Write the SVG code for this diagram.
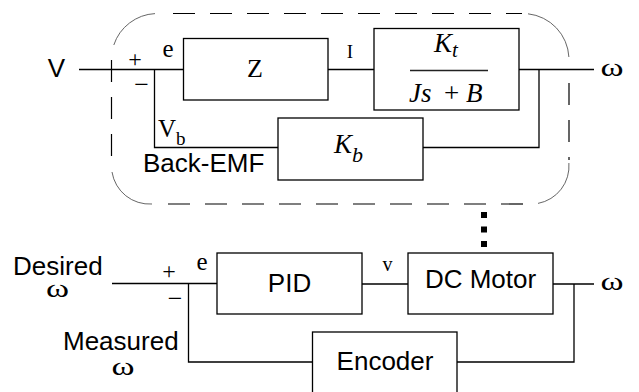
<svg xmlns="http://www.w3.org/2000/svg" width="639" height="392" viewBox="0 0 639 392">
<style>
.ln{fill:none;stroke:#000;stroke-width:1.3}
.box{fill:#fff;stroke:#000;stroke-width:1.3}
.dash{fill:none;stroke:#000;stroke-width:1.2;stroke-dasharray:22 15}
.arc{fill:none;stroke:#555;stroke-width:0.9}
.sans{font-family:"Liberation Sans",Arial,sans-serif;font-size:26px;fill:#000}
.serif{font-family:"Liberation Serif","Times New Roman",serif;fill:#000}
.it{font-style:italic}
.om{font-family:"Liberation Serif","Times New Roman",serif;font-size:25px;fill:#000;text-anchor:middle}
</style>
<rect width="639" height="392" fill="#fff"/>
<g id="boundary">
<path class="dash" d="M173,13.5 H522"/>
<path class="dash" d="M168,204 H532"/>
<path class="dash" d="M111.5,60 V160"/>
<path class="dash" d="M569,83 V160"/>
<path class="arc" d="M113.8,45 A46,46 0 0 1 155,13.6"/>
<path class="arc" d="M528,13.8 A46,46 0 0 1 568.9,57"/>
<path class="arc" d="M112,172 A38,38 0 0 0 152,204"/>
<path class="arc" d="M568.9,163 A38,38 0 0 1 538,203.4"/>
</g>
<g id="connectors">
<path class="ln" d="M79,69.5 H183.5"/>
<path class="ln" d="M154.5,69.5 V147.5 H278"/>
<path class="ln" d="M328,69.5 H374"/>
<path class="ln" d="M519,69.5 H594"/>
<path class="ln" d="M423,147.5 H539 V69.5"/>
<path d="M484,212 V248" fill="none" stroke="#000" stroke-width="6" stroke-dasharray="6 8.5"/>
<path class="ln" d="M112,283.5 H217"/>
<path class="ln" d="M188.5,283.5 V362 H312.5"/>
<path class="ln" d="M362,284 H408"/>
<path class="ln" d="M553,284 H594"/>
<path class="ln" d="M574,284 V362 H457"/>
</g>
<g id="labels">
<text class="sans" x="56.5" y="76.5" text-anchor="middle">V</text>
<text class="serif" x="135" y="67" font-size="24" text-anchor="middle">+</text>
<text class="serif" x="141.5" y="93" font-size="26" text-anchor="middle">−</text>
<text class="serif" x="168" y="57" font-size="25" text-anchor="middle">e</text>
<text class="serif" x="350" y="58" font-size="19" text-anchor="middle">I</text>
<text class="om" transform="translate(612,75.5) scale(1.4,1)">ω</text>
<text class="serif" x="158" y="137" font-size="25">V<tspan font-size="19" y="145">b</tspan></text>
<text class="sans" x="143" y="172">Back-EMF</text>
<text class="sans" x="13" y="275">Desired</text>
<text class="om" transform="translate(57.5,297) scale(1.4,1)">ω</text>
<text class="serif" x="169" y="279" font-size="24" text-anchor="middle">+</text>
<text class="serif" x="175" y="307" font-size="26" text-anchor="middle">−</text>
<text class="serif" x="202" y="270" font-size="25" text-anchor="middle">e</text>
<text class="serif" x="387.5" y="270.7" font-size="20" text-anchor="middle">v</text>
<text class="om" transform="translate(612,290) scale(1.4,1)">ω</text>
<text class="sans" x="63" y="350">Measured</text>
<text class="om" transform="translate(123,375) scale(1.4,1)">ω</text>
</g>
<g id="Z">
<rect class="box" x="183.5" y="38.5" width="144.5" height="61.5"/>
<text class="serif" x="255" y="77" font-size="26" text-anchor="middle">Z</text>
</g>
<g id="plant">
<rect class="box" x="374" y="28.5" width="145" height="81.5"/>
<text class="serif it" x="434" y="51.7" font-size="27">K<tspan font-size="21" y="56.7">t</tspan></text>
<path d="M410,70.5 H488" fill="none" stroke="#222" stroke-width="1.5"/>
<text class="serif" y="101.7" font-size="27"><tspan class="it" x="409">Js</tspan><tspan x="444">+</tspan><tspan class="it" x="466">B</tspan></text>
</g>
<g id="Kb">
<rect class="box" x="278" y="118" width="145" height="62"/>
<text class="serif it" x="334" y="153" font-size="27">K<tspan font-size="22" y="162">b</tspan></text>
</g>
<g id="PID">
<rect class="box" x="217" y="253" width="145" height="61"/>
<text class="sans" x="289.5" y="291.7" text-anchor="middle">PID</text>
</g>
<g id="DCMotor">
<rect class="box" x="408" y="253" width="145" height="61"/>
<text class="sans" x="480.5" y="288.3" text-anchor="middle">DC Motor</text>
</g>
<g id="Encoder">
<rect class="box" x="312.5" y="332" width="144.5" height="70"/>
<text class="sans" x="385" y="370" text-anchor="middle">Encoder</text>
</g>
</svg>
